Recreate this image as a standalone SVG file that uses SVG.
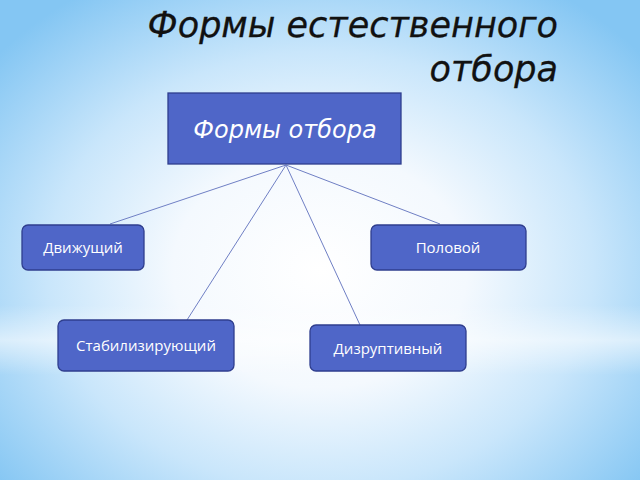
<svg xmlns="http://www.w3.org/2000/svg" width="640" height="480" viewBox="0 0 640 480">
<defs>
<radialGradient id="bg" cx="320" cy="270" r="420" gradientUnits="userSpaceOnUse" gradientTransform="translate(320 270) scale(1 0.8) translate(-320 -270)">
<stop offset="0" stop-color="#ffffff"/>
<stop offset="0.35" stop-color="#f4f9fe"/>
<stop offset="0.65" stop-color="#c9e6fb"/>
<stop offset="1" stop-color="#84c6f3"/>
</radialGradient>
<linearGradient id="band" x1="0" y1="0" x2="0" y2="1">
<stop offset="0" stop-color="#ffffff" stop-opacity="0"/>
<stop offset="0.5" stop-color="#ffffff" stop-opacity="0.55"/>
<stop offset="1" stop-color="#ffffff" stop-opacity="0"/>
</linearGradient>
</defs>
<style>
.box{fill:#4f66c8;stroke:#2f3e8e;stroke-width:1.3}
.lbl{font-family:"Open Sans","Liberation Sans",sans-serif;font-size:15px;fill:#ffffff;text-anchor:middle}
.conn{stroke:#6f7fc4;stroke-width:1;fill:none}
.title{font-family:"DejaVu Sans","Liberation Sans",sans-serif;font-style:italic;font-size:35px;fill:#111111;stroke:#111111;stroke-width:0.3;text-anchor:end}
</style>
<rect x="0" y="0" width="640" height="480" fill="url(#bg)"/>
<rect x="0" y="305" width="640" height="70" fill="url(#band)"/>
<g id="title">
<text class="title" x="558" y="37">Формы естественного</text>
<text class="title" x="558" y="81">отбора</text>
</g>
<g id="connectors">
<line class="conn" x1="286" y1="165" x2="110" y2="224"/>
<line class="conn" x1="286" y1="165" x2="187" y2="320"/>
<line class="conn" x1="286" y1="165" x2="360" y2="325"/>
<line class="conn" x1="286" y1="165" x2="440" y2="224"/>
</g>
<g id="root">
<rect class="box" x="168" y="93" width="233" height="71"/>
<text x="285" y="138" style="font-family:'DejaVu Sans','Liberation Sans',sans-serif;font-style:italic;font-size:24px;fill:#ffffff;text-anchor:middle">Формы отбора</text>
</g>
<g id="n1">
<rect class="box" x="22" y="225" width="122" height="45" rx="6"/>
<text class="lbl" x="83" y="253">Движущий</text>
</g>
<g id="n2">
<rect class="box" x="371" y="225" width="155" height="45" rx="6"/>
<text class="lbl" x="448" y="253">Половой</text>
</g>
<g id="n3">
<rect class="box" x="58" y="320" width="176" height="51" rx="6"/>
<text class="lbl" x="146" y="351">Стабилизирующий</text>
</g>
<g id="n4">
<rect class="box" x="310" y="325" width="156" height="46" rx="6"/>
<text class="lbl" x="388" y="354">Дизруптивный</text>
</g>
</svg>
